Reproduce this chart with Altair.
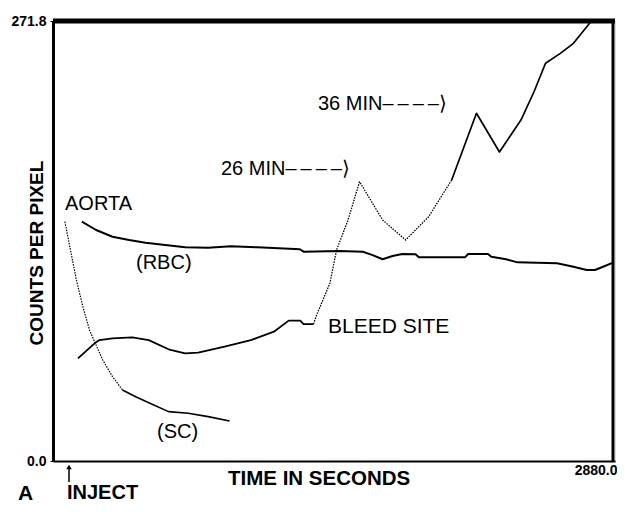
import altair as alt
import pandas as pd

# ---- data ----
aorta_t = [61, 86, 120, 153, 187, 213, 255, 305, 356, 424, 491, 592, 693, 795, 905]
aorta_v = [147.8, 132.4, 111.8, 95.3, 80.9, 73.7, 62.4, 52.1, 43.9, 39.7, 36.0, 30.5, 29.5, 27.4, 24.7]

rbc_t = [148, 221, 305, 390, 474, 575, 677, 795, 911, 1048, 1265, 1284, 1468, 1588, 1638,
         1689, 1740, 1790, 1858, 1875, 2111, 2128, 2229, 2246, 2322, 2380, 2583, 2667, 2735,
         2777, 2819, 2870]
rbc_v = [147.8, 142.7, 138.5, 136.5, 134.8, 133.4, 132.0, 131.8, 132.6, 132.0, 130.8, 129.3,
         129.7, 129.3, 127.2, 124.6, 126.6, 127.9, 127.7, 125.8, 125.8, 127.9, 127.9, 126.2,
         124.6, 122.7, 122.1, 120.0, 118.0, 118.0, 120.0, 122.5]

bleed_t = [128, 213, 238, 305, 406, 491, 592, 677, 744, 879, 1014, 1132, 1208, 1267, 1284,
           1335, 1351, 1419, 1453, 1512, 1571, 1689, 1807, 1925, 2043, 2170, 2288, 2398,
           2465, 2524, 2600, 2667, 2754]
bleed_v = [63.4, 72.7, 74.7, 75.8, 76.4, 74.7, 69.0, 66.5, 66.9, 70.6, 74.7, 79.9, 86.7,
           86.7, 84.6, 84.6, 90.2, 109.8, 130.3, 148.9, 172.5, 148.9, 136.5, 150.9, 173.6,
           214.8, 190.9, 210.6, 228.1, 245.7, 251.8, 258.0, 271.0]

y_ticks = [0.0, 271.8]
x_ticks = [2880.0]

FONT = "Liberation Sans"
DASHES = "\u2013\u2009\u2013\u2009\u2013\u2009\u2013"

x_scale = alt.Scale(domain=[0, 2880], nice=False, zero=False)
y_scale = alt.Scale(domain=[0, 271.8], nice=False, zero=False)

x_axis = alt.Axis(values=x_ticks, format=".1f", title=None, grid=False, ticks=False,
                  labelAlign="right", labelOffset=2, labelPadding=2, labelFont=FONT,
                  labelFontWeight="bold", labelFontSize=14, labelColor="black",
                  domainColor="black", domainWidth=2)
y_axis = alt.Axis(values=y_ticks, format=".1f", title=None, grid=False, ticks=True,
                  tickSize=3, tickColor="black", labelPadding=4, labelFont=FONT,
                  labelFontWeight="bold", labelFontSize=14, labelColor="black",
                  domainColor="black", domainWidth=3)


def frame(ts, vs, lo, hi):
    rows = [(t, v) for t, v in zip(ts, vs) if lo <= t <= hi]
    return pd.DataFrame(rows, columns=["t", "v"])


def line(df, width, dash=None):
    kw = dict(color="black", strokeWidth=width, strokeJoin="round")
    if dash:
        kw["strokeDash"] = dash
    return alt.Chart(df).mark_line(**kw).encode(
        x=alt.X("t:Q", scale=x_scale, axis=x_axis),
        y=alt.Y("v:Q", scale=y_scale, axis=y_axis),
    )


layers = [
    line(frame(aorta_t, aorta_v, 0, 356), 1.2, [1.5, 1.2]),
    line(frame(aorta_t, aorta_v, 356, 3000), 1.6),
    line(frame(rbc_t, rbc_v, 0, 3000), 2.0),
    line(frame(bleed_t, bleed_v, 0, 1335), 1.8),
    line(frame(bleed_t, bleed_v, 1335, 2043), 1.3, [1.5, 1.2]),
    line(frame(bleed_t, bleed_v, 2043, 3000), 1.7),
]

top_rule = alt.Chart(pd.DataFrame({"v": [271.8]})).mark_rule(
    color="black", strokeWidth=5).encode(y=alt.Y("v:Q", scale=y_scale, axis=y_axis))
right_rule = alt.Chart(pd.DataFrame({"a": [1]})).mark_rule(
    color="black", strokeWidth=3).encode(x=alt.value(560), y=alt.value(0), y2=alt.value(440))

# ---- annotations (text) ----
notes = [
    ("AORTA", 12, 189, "normal", 20),
    ("(RBC)", 83, 248, "normal", 20),
    ("BLEED SITE", 275, 312, "normal", 21),
    ("(SC)", 104, 417, "normal", 20),
    ("26 MIN" + DASHES + "\u27e9", 168, 154, "normal", 20),
    ("36 MIN" + DASHES + "\u27e9", 265, 89, "normal", 20),
    ("TIME IN SECONDS", 175, 464, "bold", 20.5),
    ("INJECT", 14, 478, "bold", 20),
    ("A", -35, 479, "bold", 21),
]
text_layers = []
for txt, px, py, wt, sz in notes:
    text_layers.append(
        alt.Chart(pd.DataFrame({"s": [txt]})).mark_text(
            align="left", baseline="alphabetic", font=FONT, fontSize=sz,
            fontWeight=wt, color="black").encode(
            text="s:N", x=alt.value(px), y=alt.value(py))
    )

ytitle = alt.Chart(pd.DataFrame({"s": ["COUNTS PER PIXEL"]})).mark_text(
    angle=270, align="center", baseline="middle", font=FONT, fontSize=19,
    fontWeight="bold", color="black").encode(text="s:N", x=alt.value(-16), y=alt.value(232))

arrow_shaft = alt.Chart(pd.DataFrame({"a": [1]})).mark_rule(
    color="black", strokeWidth=1.5).encode(x=alt.value(16), y=alt.value(445), y2=alt.value(461))
arrow_head = alt.Chart(pd.DataFrame({"a": [1]})).mark_point(
    shape="triangle-up", filled=True, color="black", size=30, opacity=1).encode(
    x=alt.value(16), y=alt.value(446))

chart = alt.layer(*layers, top_rule, right_rule, *text_layers, ytitle, arrow_shaft, arrow_head).properties(
    width=562, height=440,
    padding={"left": 45, "top": 13, "right": 2, "bottom": 43},
    autosize=alt.AutoSizeParams(type="none"),
).configure_view(stroke="black", strokeWidth=1.6).configure(background="white")

chart.save("out.html", embed_options={"renderer": "svg", "actions": False})
